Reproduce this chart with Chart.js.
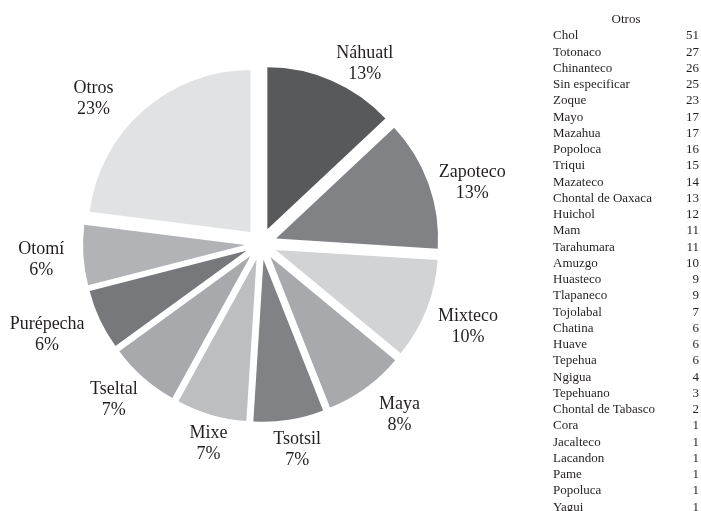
<!DOCTYPE html>
<html lang="es">
<head>
<meta charset="utf-8">
<title>Lenguas indígenas</title>
<script src="https://cdn.jsdelivr.net/npm/chart.js@4/dist/chart.umd.min.js"></script>
<style>
    body { margin: 0; background: #ffffff; }
    #wrap { position: relative; width: 701px; height: 511px; }
    #otros {
        position: absolute;
        left: 553px;
        top: 11px;
        width: 146px;
        font-family: "Liberation Serif", serif;
        font-size: 13px;
        color: #231f20;
    }
    #otros div { height: 16.25px; line-height: 16.25px; display: flex; justify-content: space-between; white-space: nowrap; }
    #otros .title { justify-content: center; }
</style>
</head>
<body>
<div id="wrap">
    <canvas id="pie"></canvas>
    <div id="otros"></div>
</div>
<script>
const groups = ["Náhuatl", "Zapoteco", "Mixteco", "Maya", "Tsotsil", "Mixe", "Tseltal", "Purépecha", "Otomí", "Otros"];
const shares = [13, 13, 10, 8, 7, 7, 7, 6, 6, 23];
const sliceColors = ["#58595b", "#808285", "#d1d3d4", "#a7a9ac", "#808285", "#bcbec0", "#a7a9ac", "#77787b", "#b1b3b6", "#e1e2e3"];

const otrosTitle = "Otros";
const otrosNames = ["Chol", "Totonaco", "Chinanteco", "Sin especificar", "Zoque", "Mayo", "Mazahua", "Popoloca",
    "Triqui", "Mazateco", "Chontal de Oaxaca", "Huichol", "Mam", "Tarahumara", "Amuzgo", "Huasteco", "Tlapaneco",
    "Tojolabal", "Chatina", "Huave", "Tepehua", "Ngigua", "Tepehuano", "Chontal de Tabasco", "Cora", "Jacalteco",
    "Lacandon", "Pame", "Popoluca", "Yagui"];
const otrosCounts = [51, 27, 26, 25, 23, 17, 17, 16, 15, 14, 13, 12, 11, 11, 10, 9, 9, 7, 6, 6, 6, 4, 3, 2, 1, 1, 1, 1, 1, 1];

const TEXT_COLOR = "#231f20";
const EXPLODE = 16;      // how far every slice is pulled out from the centre
const LABEL_GAP = 10;
const LABEL_LINE = 21;
// hand placement of the labels, relative to the automatic spot
const labelShift = [[17, 20], [-2, 16], [-1, 0], [11, -5], [3, -4], [7, -5], [-2, -9], [-5, -8], [-8, 2], [-24, 18]];

// pull each slice out along its own middle angle, the same distance for all
const baseArcDraw = Chart.ArcElement.prototype.draw;
Chart.ArcElement.prototype.draw = function (ctx) {
    const mid = (this.startAngle + this.endAngle) / 2;
    ctx.save();
    ctx.translate(Math.cos(mid) * EXPLODE, Math.sin(mid) * EXPLODE);
    baseArcDraw.call(this, ctx);
    ctx.restore();
};

const outsideLabels = {
    id: "outsideLabels",
    afterDatasetsDraw(chart) {
        const ctx = chart.ctx;
        const arcs = chart.getDatasetMeta(0).data;
        ctx.save();
        ctx.font = "18px 'Liberation Serif'";
        ctx.fillStyle = TEXT_COLOR;
        ctx.textAlign = "center";
        ctx.textBaseline = "middle";
        arcs.forEach((arc, i) => {
            const mid = (arc.startAngle + arc.endAngle) / 2;
            const cos = Math.cos(mid);
            const sin = Math.sin(mid);
            const lines = [groups[i], shares[i] + "%"];
            const w = Math.max(...lines.map(t => ctx.measureText(t).width));
            const h = lines.length * LABEL_LINE;
            const dist = arc.outerRadius + EXPLODE + LABEL_GAP + Math.abs(cos) * w / 2 + Math.abs(sin) * h / 2;
            const x = arc.x + cos * dist + labelShift[i][0];
            const y = arc.y + sin * dist + labelShift[i][1];
            lines.forEach((t, k) => {
                ctx.fillText(t, x, y + (k - (lines.length - 1) / 2) * LABEL_LINE);
            });
        });
        ctx.restore();
    }
};

new Chart(document.getElementById("pie"), {
    type: "pie",
    data: {
        labels: groups,
        datasets: [{
            data: shares,
            backgroundColor: sliceColors,
            borderWidth: 0,
            radius: 162
        }]
    },
    options: {
        responsive: true,
        maintainAspectRatio: false,
        animation: false,
        layout: {
            padding: { left: 0, right: 179, top: 0, bottom: 23 }
        },
        plugins: {
            legend: { display: false },
            tooltip: { enabled: false }
        }
    },
    plugins: [outsideLabels]
});

// the "Otros" breakdown on the right
const box = document.getElementById("otros");
const head = document.createElement("div");
head.className = "title";
head.textContent = otrosTitle;
box.appendChild(head);
otrosNames.forEach((name, i) => {
    const row = document.createElement("div");
    const a = document.createElement("span");
    const b = document.createElement("span");
    a.textContent = name;
    b.textContent = otrosCounts[i];
    row.appendChild(a);
    row.appendChild(b);
    box.appendChild(row);
});
</script>
</body>
</html>
